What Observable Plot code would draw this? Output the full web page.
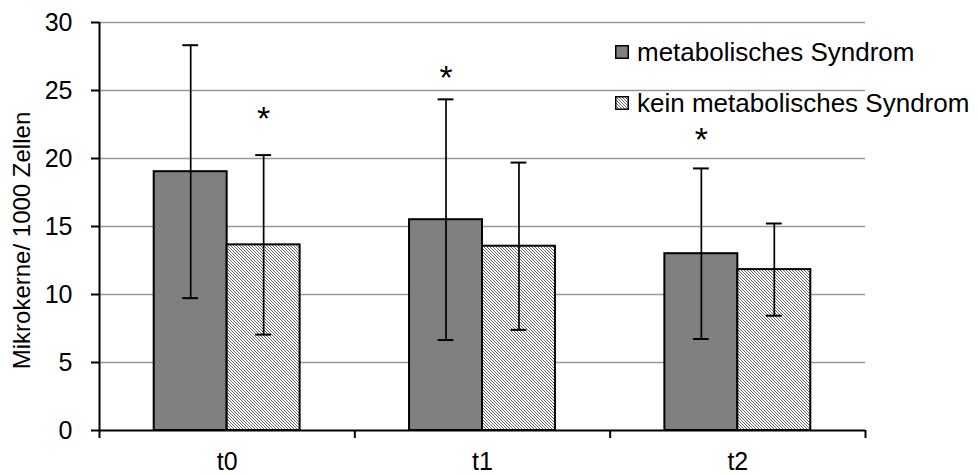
<!DOCTYPE html>
<html><head><meta charset="utf-8">
<script src="https://cdn.jsdelivr.net/npm/d3@7"></script>
<script src="https://cdn.jsdelivr.net/npm/@observablehq/plot@0.6"></script>
<style>
body{margin:0;background:#fff;font-family:"Liberation Sans",Arial,sans-serif;}
#wrap{position:relative;width:978px;height:475px;}
.item{position:absolute;left:615px;display:flex;align-items:center;white-space:nowrap;font-size:26px;line-height:30px;height:30px;color:#000;}
.item svg{display:block;margin-right:8px;}
</style></head><body><div id="wrap"></div>
<script>
const times = ["t0", "t1", "t2"];
const groups = ["metabolisches Syndrom", "kein metabolisches Syndrom"];
const msMean = [19.03, 15.5, 13.0];
const msSD = [9.3, 8.85, 6.27];
const keinMean = [13.65, 13.55, 11.83];
const keinSD = [6.6, 6.15, 3.39];
const starTime = ["t0", "t1", "t2"];
const starGroup = [1, 0, 0];
const starValue = [23.25, 26.3, 21.7];
const yTicks = [0, 5, 10, 15, 20, 25, 30];
const yLabel = "Mikrokerne/ 1000 Zellen";

// Excel-like gap width 75%: two bars take 2/3.5 of each category band
const w = 1 / 3.5;
const rows = [];
times.forEach((t, i) => {
  [[msMean, msSD], [keinMean, keinSD]].forEach(([m, s], g) => {
    const x1 = i - w + g * w;
    rows.push({time: t, g, x1, x2: x1 + w, c: x1 + w / 2, mean: m[i], sd: s[i], lo: m[i] - s[i], hi: m[i] + s[i]});
  });
});
const ms = rows.filter(d => d.g === 0);
const kein = rows.filter(d => d.g === 1);
const stars = starTime.map((t, k) => {
  const r = rows.find(d => d.time === t && d.g === starGroup[k]);
  return {c: r.c, v: starValue[k]};
});
const cap = 0.031;

const plot = Plot.plot({
  width: 978,
  height: 475,
  marginLeft: 99,
  marginRight: 113,
  marginTop: 22,
  marginBottom: 45,
  style: {fontFamily: '"Liberation Sans", Arial, sans-serif', fontSize: "25px", color: "#000", background: "#fff"},
  x: {domain: [-0.5, times.length - 0.5]},
  y: {domain: [0, 30]},
  marks: [
    Plot.ruleY(yTicks.filter(v => v > 0), {stroke: "#999", strokeWidth: 1.7}),
    Plot.rectY(ms, {x1: "x1", x2: "x2", y1: 0, y2: "mean", fill: "#808080", stroke: "#000", strokeWidth: 2}),
    Plot.rectY(kein, {x1: "x1", x2: "x2", y1: 0, y2: "mean", fill: "url(#hatch)", stroke: "#000", strokeWidth: 2}),
    Plot.ruleX(rows, {x: "c", y1: "lo", y2: "hi", stroke: "#000", strokeWidth: 1.7}),
    Plot.ruleY(rows, {y: "hi", x1: d => d.c - cap, x2: d => d.c + cap, stroke: "#000", strokeWidth: 2}),
    Plot.ruleY(rows, {y: "lo", x1: d => d.c - cap, x2: d => d.c + cap, stroke: "#000", strokeWidth: 2}),
    Plot.text(stars, {x: "c", y: "v", text: () => "*", fontSize: 34, dy: 5}),
    Plot.ruleX([-0.5], {stroke: "#000", strokeWidth: 2}),
    Plot.ruleY([0], {stroke: "#000", strokeWidth: 2}),
    Plot.axisY({ticks: yTicks, tickSize: 8, tickPadding: 19, fontSize: 25, strokeWidth: 2, label: null}),
    Plot.axisX({ticks: d3.range(times.length + 1).map(i => i - 0.5), tickSize: 8, tickFormat: () => "", strokeWidth: 2, label: null}),
    Plot.axisX({ticks: d3.range(times.length), tickSize: 0, tickPadding: 22, tickFormat: i => times[i], fontSize: 25, label: null}),
    Plot.text([yLabel], {frameAnchor: "left", textAnchor: "middle", rotate: -90, dx: -87, dy: 14, lineAnchor: "top", fontSize: 24})
  ]
});

const defs = d3.select(plot).insert("defs", ":first-child");
const pat = defs.append("pattern").attr("id", "hatch").attr("patternUnits", "userSpaceOnUse").attr("width", 3).attr("height", 3);
pat.append("rect").attr("width", 3).attr("height", 3).attr("fill", "#fff");
pat.append("path").attr("d", "M-1,-1L4,4M-1,2L1,4M2,-1L4,1").attr("stroke", "#555").attr("stroke-width", 0.9);

const wrap = document.getElementById("wrap");
wrap.appendChild(plot);
const fills = ["#808080", "url(#hatch)"];
const tops = [37, 88];
groups.forEach((g, k) => {
  const div = document.createElement("div");
  div.className = "item";
  div.style.top = tops[k] + "px";
  div.innerHTML = `<svg width="14" height="14"><rect x="0.75" y="0.75" width="12.5" height="12.5" fill="${fills[k]}" stroke="#000" stroke-width="1.5"/></svg><span></span>`;
  div.querySelector("span").textContent = g;
  wrap.appendChild(div);
});
</script>
</body></html>
